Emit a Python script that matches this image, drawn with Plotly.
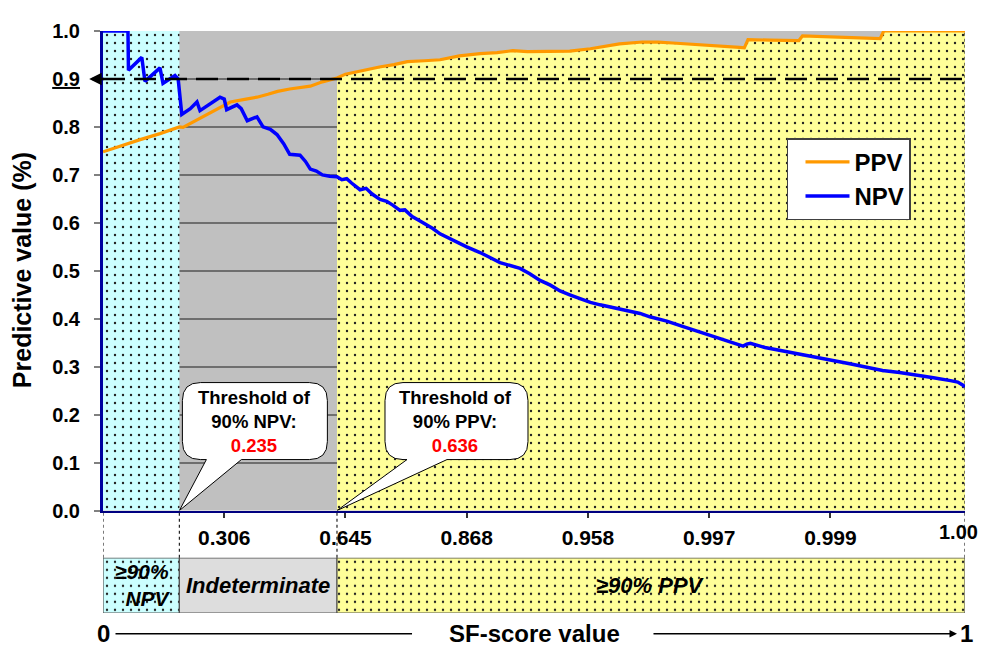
import plotly.graph_objects as go

# ---------------- data ----------------
N_POINTS = 711                      # number of ordered SF-score positions (x index)
tick_idx = [100, 200, 300, 400, 500, 600]
tick_labels = ["0.306", "0.645", "0.868", "0.958", "0.997", "0.999"]
end_label = "1.00"

thr_npv_idx = 63                    # position of 90% NPV threshold
thr_npv_val = "0.235"
thr_ppv_idx = 193                   # position of 90% PPV threshold
thr_ppv_val = "0.636"
ref_level = 0.9

ppv_x = [0, 14, 30, 47, 58, 63, 66, 80, 95, 105, 118, 127, 136, 144, 154, 163, 171, 181, 187,
         193, 200, 214, 228, 240, 251, 265, 278, 294, 311, 325, 338, 350, 363, 375, 385, 402,
         415, 426, 445, 458, 470, 485, 498, 512, 525, 529, 532, 550, 569, 574, 577, 600, 620,
         641, 644, 660, 680, 711]
ppv_y = [0.748, 0.760, 0.773, 0.786, 0.795, 0.800, 0.799, 0.818, 0.838, 0.852, 0.858, 0.862,
         0.868, 0.874, 0.879, 0.882, 0.885, 0.894, 0.898, 0.902, 0.910, 0.918, 0.925, 0.930,
         0.936, 0.938, 0.940, 0.948, 0.953, 0.955, 0.959, 0.957, 0.957, 0.957, 0.958, 0.963,
         0.969, 0.973, 0.977, 0.977, 0.975, 0.973, 0.971, 0.969, 0.966, 0.965, 0.982, 0.981,
         0.979, 0.980, 0.990, 0.988, 0.986, 0.984, 1.0, 1.0, 1.0, 1.0]

npv_x = [0, 20.6, 21, 32, 34.6, 47, 49.5, 59.4, 62, 65, 72, 77.5, 80, 88, 96.5, 100, 102, 110.5,
         114, 119, 127, 132, 138, 143.5, 149, 154, 162.5, 167, 171, 176, 181, 187, 193, 197, 201,
         205, 212, 217, 222, 228.5, 234, 239, 245, 249, 255, 261.5, 268, 272, 278, 286, 294.5,
         300, 311, 316, 322, 327.5, 336, 344, 352, 360.5, 369, 377, 385, 393, 402, 410, 418, 426,
         435, 443, 451, 465, 478, 492, 506, 517, 528, 531, 534, 546, 561, 575, 589, 602, 616, 630,
         643, 657, 671, 685, 699, 705, 709, 711]
npv_y = [1.0, 1.0, 0.918, 0.945, 0.895, 0.923, 0.891, 0.907, 0.900, 0.826, 0.838, 0.852, 0.834,
         0.848, 0.862, 0.858, 0.836, 0.846, 0.838, 0.813, 0.821, 0.800, 0.795, 0.784, 0.765,
         0.743, 0.741, 0.728, 0.712, 0.708, 0.700, 0.697, 0.696, 0.690, 0.692, 0.683, 0.669,
         0.672, 0.660, 0.649, 0.645, 0.637, 0.626, 0.627, 0.613, 0.604, 0.595, 0.588, 0.577,
         0.567, 0.556, 0.550, 0.538, 0.531, 0.524, 0.517, 0.511, 0.505, 0.494, 0.480, 0.470,
         0.458, 0.450, 0.443, 0.434, 0.429, 0.425, 0.421, 0.415, 0.411, 0.404, 0.395, 0.384,
         0.373, 0.361, 0.352, 0.343, 0.347, 0.349, 0.340, 0.333, 0.327, 0.320, 0.313, 0.306,
         0.299, 0.292, 0.288, 0.283, 0.277, 0.271, 0.268, 0.262, 0.258]

# ---------------- styling ----------------
FONT = "Arial, Liberation Sans, sans-serif"
CYAN = "#CCFFFF"
YELLOW = "#FFFF99"
GRAY_BG = "#C0C0C0"
LIGHT_GRAY = "#DDDDDD"
ORANGE = "#FF9900"
BLUE = "#0000FF"

Y_MAIN_BOTTOM = 0.176   # paper fraction where main plot starts
Y_BAND_TOP = 0.0948     # paper fraction where category band ends


def dots(bg):
    return dict(shape=".", bgcolor=bg, fgcolor="#202020", size=8, solidity=0.07, fillmode="replace")


fig = go.Figure()

# cyan >=90% NPV zone in main plot
fig.add_trace(go.Scatter(x=[0, thr_npv_idx, thr_npv_idx, 0, 0], y=[0, 0, 1, 1, 0],
                         fill="toself", mode="lines", line=dict(width=0),
                         fillpattern=dots(CYAN), fillcolor=CYAN,
                         showlegend=False, hoverinfo="skip"))

# yellow >=90% PPV zone (under the PPV curve)
yx = [x for x in ppv_x if x >= thr_ppv_idx]
yy = [y for x, y in zip(ppv_x, ppv_y) if x >= thr_ppv_idx]
fig.add_trace(go.Scatter(x=yx, y=yy, fill="tozeroy", mode="lines", line=dict(width=0),
                         fillpattern=dots(YELLOW), fillcolor=YELLOW,
                         showlegend=False, hoverinfo="skip"))

# curves
fig.add_trace(go.Scatter(x=ppv_x, y=ppv_y, mode="lines", name="PPV",
                         line=dict(color=ORANGE, width=3.2)))
fig.add_trace(go.Scatter(x=npv_x, y=npv_y, mode="lines", name="NPV",
                         line=dict(color=BLUE, width=3.5)))

# category band below the axis (yaxis2)
band = [(0, thr_npv_idx, CYAN, True), (thr_npv_idx, thr_ppv_idx, LIGHT_GRAY, False),
        (thr_ppv_idx, N_POINTS, YELLOW, True)]
for x0, x1, col, pat in band:
    kw = dict(fillpattern=dots(col)) if pat else {}
    fig.add_trace(go.Scatter(x=[x0, x1, x1, x0, x0], y=[0, 0, 1, 1, 0], yaxis="y2",
                             fill="toself", fillcolor=col, mode="lines",
                             line=dict(color="#555555", width=1.2),
                             showlegend=False, hoverinfo="skip", **kw))

ann = []
bold_it = dict(family=FONT, size=22, color="black", weight="bold", style="italic")
ann.append(dict(x=thr_npv_idx / 2, y=0.5, xref="x", yref="y2", text="≥90%<br>NPV",
                showarrow=False, font=dict(bold_it, size=21), align="right",
                xanchor="center", yanchor="middle", xshift=2))
ann.append(dict(x=(thr_npv_idx + thr_ppv_idx) / 2, y=0.5, xref="x", yref="y2",
                text="Indeterminate", showarrow=False, font=bold_it,
                xanchor="center", yanchor="middle"))
ann.append(dict(x=(thr_ppv_idx + N_POINTS) / 2, y=0.5, xref="x", yref="y2",
                text="≥90% PPV", showarrow=False, font=bold_it,
                xanchor="center", yanchor="middle"))

# end tick label
ann.append(dict(x=N_POINTS, y=0.139, xref="x", yref="paper", text=end_label, showarrow=False,
                xanchor="center", yanchor="middle", xshift=-7,
                font=dict(family=FONT, size=20, weight="bold")))

# y title
ann.append(dict(x=-0.094, y=0.589, xref="paper", yref="paper", text="Predictive value (%)",
                textangle=-90, showarrow=False, xanchor="center", yanchor="middle",
                font=dict(family=FONT, size=25, weight="bold")))

# arrow pointing to 0.9 label
ann.append(dict(x=-0.016, y=ref_level, xref="paper", yref="y", ax=16, ay=0, text="",
                showarrow=True, arrowhead=2, arrowsize=1, arrowwidth=2.5, arrowcolor="black"))

# bottom "0 ---- SF-score value ----> 1"
BOT_Y = -0.0355
bot_font = dict(family=FONT, size=24, weight="bold")
ann.append(dict(x=0.0, y=BOT_Y, xref="paper", yref="paper", text="0", showarrow=False,
                xanchor="center", yanchor="middle", font=bot_font))
ann.append(dict(x=0.5, y=BOT_Y, xref="paper", yref="paper", text="SF-score value",
                showarrow=False, xanchor="center", yanchor="middle", font=bot_font))
ann.append(dict(x=1.0012, y=BOT_Y, xref="paper", yref="paper", text="1", showarrow=False,
                xanchor="center", yanchor="middle", font=bot_font))
ann.append(dict(x=0.9907, y=BOT_Y, xref="paper", yref="paper", ax=-305, ay=0, text="",
                showarrow=True, arrowhead=2, arrowsize=1, arrowwidth=1.5, arrowcolor="black"))

# callout texts
call_font = dict(family=FONT, size=18.5, color="black", weight="bold")
ann.append(dict(x=thr_npv_idx, y=0, xref="x", yref="y", xshift=75, yshift=89, showarrow=False,
                xanchor="center", yanchor="middle",
                text="Threshold of<br>90% NPV:<br><span style='color:#FF0000'>" + thr_npv_val + "</span>",
                font=call_font))
ann.append(dict(x=thr_ppv_idx, y=0, xref="x", yref="y", xshift=119, yshift=89, showarrow=False,
                xanchor="center", yanchor="middle",
                text="Threshold of<br>90% PPV:<br><span style='color:#FF0000'>" + thr_ppv_val + "</span>",
                font=call_font))


def bubble(xl, xr, yb, yt, wl, wr, r):
    return (f"M 0,0 L {wr},{yb} L {xr - r},{yb} Q {xr},{yb} {xr},{yb + r} L {xr},{yt - r} "
            f"Q {xr},{yt} {xr - r},{yt} L {xl + r},{yt} Q {xl},{yt} {xl},{yt - r} "
            f"L {xl},{yb + r} Q {xl},{yb} {xl + r},{yb} L {wl},{yb} Z")


shapes = []
# dashed 90% reference line
shapes.append(dict(type="line", xref="x domain", yref="y", x0=0, x1=1, y0=ref_level, y1=ref_level,
                   line=dict(color="black", width=2.5, dash="22px,9px")))
# dotted connectors between axis and band
for xv in [0, thr_npv_idx, thr_ppv_idx, N_POINTS]:
    top = 1.0 if xv == N_POINTS else Y_MAIN_BOTTOM
    shapes.append(dict(type="line", xref="x", yref="paper", x0=xv, x1=xv, y0=Y_BAND_TOP, y1=top,
                       line=dict(color="#222222", width=1.2, dash="dot")))
# callout bubbles
shapes.append(dict(type="path", xref="x", yref="y", xsizemode="pixel", ysizemode="pixel",
                   xanchor=thr_npv_idx, yanchor=0, path=bubble(3, 148, 51, 128, 27, 62, 18),
                   fillcolor="white", line=dict(color="black", width=1)))
shapes.append(dict(type="path", xref="x", yref="y", xsizemode="pixel", ysizemode="pixel",
                   xanchor=thr_ppv_idx, yanchor=0, path=bubble(48, 191, 51, 128, 70, 110, 18),
                   fillcolor="white", line=dict(color="black", width=1)))
# bottom line from "0" toward title
shapes.append(dict(type="line", xref="paper", yref="paper", x0=0.0145, x1=0.3585, y0=BOT_Y, y1=BOT_Y,
                   line=dict(color="black", width=1.5)))

# The page body adds an 8px offset, so the figure is 8px smaller and margins shifted.
fig.update_layout(
    width=978, height=642,
    margin=dict(l=95, r=21, t=14, b=37),
    paper_bgcolor="white", plot_bgcolor=GRAY_BG,
    font=dict(family=FONT, color="black"),
    xaxis=dict(range=[0, N_POINTS], domain=[0, 1], anchor="y",
               tickmode="array", tickvals=tick_idx, ticktext=tick_labels,
               ticks="outside", ticklen=5, tickwidth=1.5, tickcolor="#333333",
               ticklabelstandoff=2,
               tickfont=dict(family=FONT, size=21, weight="bold", color="black"),
               showline=True, linecolor="#000080", linewidth=2,
               showgrid=False, zeroline=False),
    yaxis=dict(range=[0, 1], domain=[Y_MAIN_BOTTOM, 1], anchor="x",
               tickmode="array", tickvals=[i / 10 for i in range(11)],
               ticktext=["0.0", "0.1", "0.2", "0.3", "0.4", "0.5", "0.6", "0.7", "0.8",
                         "<u>0.9</u>", "1.0"],
               ticks="outside", ticklen=6, tickwidth=1.5, tickcolor="#808080",
               ticklabelstandoff=10,
               tickfont=dict(family=FONT, size=20, weight="bold", color="black"),
               showgrid=True, gridcolor="#6E6E6E", gridwidth=1.5,
               showline=True, linecolor="#0000A0", linewidth=3, zeroline=False),
    yaxis2=dict(range=[0, 1], domain=[0, Y_BAND_TOP], anchor="x", visible=False),
    legend=dict(x=0.7935, y=0.8156, xanchor="left", yanchor="top",
                bgcolor="white", bordercolor="#404040", borderwidth=1.5,
                font=dict(family=FONT, size=24, weight="bold", color="black"),
                traceorder="normal", indentation=12, itemwidth=44),
    annotations=ann,
    shapes=shapes,
)

fig.write_html("out.html")
